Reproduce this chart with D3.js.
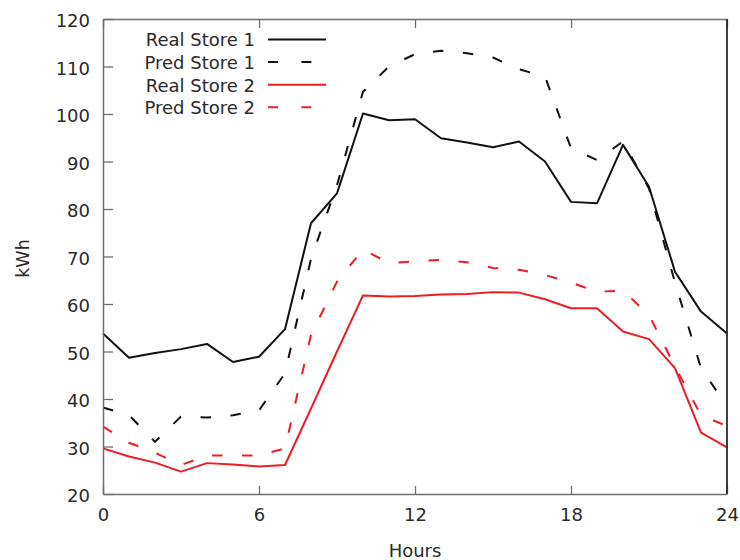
<!DOCTYPE html>
<html>
<head>
<meta charset="utf-8">
<script src="https://cdn.jsdelivr.net/npm/d3@7"></script>
<style>
  html, body { margin: 0; padding: 0; background: #fff; }
  svg { display: block; font-family: "DejaVu Sans", sans-serif; }
</style>
</head>
<body>
<svg id="chart" width="740" height="560"></svg>
<script>
// Hourly energy consumption, real vs predicted, for two stores
const hours = [0, 1, 2, 3, 4, 5, 6, 7, 8, 9, 10, 11, 12, 13, 14, 15, 16, 17, 18, 19, 20, 21, 22, 23, 24];

const realStore1 = [53.8, 48.7, 49.7, 50.5, 51.6, 47.8, 48.9, 54.7, 77.0, 83.3, 100.1, 98.7, 98.9, 94.9, 94.0, 93.0, 94.2, 90.0, 81.5, 81.2, 93.5, 84.7, 66.8, 58.4, 53.8];
const predStore1 = [38.2, 36.6, 31.0, 36.3, 36.1, 36.6, 37.6, 45.4, 69.5, 85.0, 104.7, 110.0, 112.6, 113.3, 112.8, 111.9, 109.4, 107.9, 92.8, 90.3, 94.2, 84.3, 64.5, 46.5, 38.5];
const realStore2 = [29.6, 27.9, 26.6, 24.7, 26.5, 26.2, 25.8, 26.1, 38.0, 50.0, 61.8, 61.6, 61.7, 62.0, 62.1, 62.5, 62.4, 61.0, 59.1, 59.1, 54.2, 52.6, 46.5, 32.9, 29.8];
const predStore2 = [34.2, 30.8, 28.7, 26.1, 28.1, 28.1, 28.1, 29.6, 53.5, 64.7, 71.5, 68.6, 69.0, 69.3, 68.8, 67.6, 67.2, 66.1, 64.5, 62.6, 62.8, 57.7, 46.8, 36.6, 34.3];

const xTicks = [0, 6, 12, 18, 24];
const yTicks = [20, 30, 40, 50, 60, 70, 80, 90, 100, 110, 120];

const seriesNames = ["Real Store 1", "Pred Store 1", "Real Store 2", "Pred Store 2"];
const seriesValues = [realStore1, predStore1, realStore2, predStore2];
const seriesColors = ["#111111", "#111111", "#ee1c25", "#ee1c25"];
const seriesDashed = [false, true, false, true];

const svg = d3.select("#chart");
const margin = { left: 103, right: 13, top: 19, bottom: 66 };
const W = 740, H = 560;

const x = d3.scaleLinear().domain([0, 24]).range([margin.left, W - margin.right]);
const y = d3.scaleLinear().domain([20, 120]).range([H - margin.bottom, margin.top]);

const axisColor = "#6e6e6e";
const textColor = "#2a2a2a";

// Lines
const line = d3.line().x((d, i) => x(hours[i])).y(d => y(d));
seriesValues.forEach((vals, k) => {
  svg.append("path")
    .datum(vals)
    .attr("fill", "none")
    .attr("stroke", seriesColors[k])
    .attr("stroke-width", 2)
    .attr("stroke-linejoin", "round")
    .attr("stroke-dasharray", seriesDashed[k] ? "10.5,19.5" : null)
    .attr("d", line);
});

// Axes: inward ticks on left, bottom and top
const yAxis = svg.append("g")
  .attr("transform", `translate(${x(0)},0)`)
  .call(d3.axisLeft(y).tickValues(yTicks).tickSizeInner(-10).tickSizeOuter(0).tickPadding(13));
const xAxis = svg.append("g")
  .attr("transform", `translate(0,${y(20)})`)
  .call(d3.axisBottom(x).tickValues(xTicks).tickSizeInner(-8).tickSizeOuter(0).tickPadding(14));
const xAxisTop = svg.append("g")
  .attr("transform", `translate(0,${y(120)})`)
  .call(d3.axisTop(x).tickValues(xTicks).tickSizeInner(-9).tickSizeOuter(0).tickFormat(""));

[yAxis, xAxis, xAxisTop].forEach(g => {
  g.select(".domain").attr("stroke", axisColor).attr("stroke-width", 1.5);
  g.selectAll(".tick line").attr("stroke", axisColor).attr("stroke-width", 1.3);
  g.selectAll(".tick text")
    .attr("fill", textColor)
    .style("font-family", "'DejaVu Sans', sans-serif")
    .style("font-size", "18px");
});
yAxis.selectAll(".tick text").attr("dy", "0.42em");

// Right border
svg.append("line")
  .attr("x1", x(24)).attr("x2", x(24))
  .attr("y1", y(120)).attr("y2", y(20))
  .attr("stroke", "#2a2a2a").attr("stroke-width", 1.8);

// Axis titles
svg.append("text")
  .attr("transform", `translate(29,${(y(20) + y(120)) / 2 + 2}) rotate(-90)`)
  .attr("text-anchor", "middle")
  .attr("fill", textColor)
  .style("font-size", "17.5px")
  .text("kWh");
svg.append("text")
  .attr("x", (x(0) + x(24)) / 2)
  .attr("y", 557)
  .attr("text-anchor", "middle")
  .attr("fill", textColor)
  .style("font-size", "18px")
  .text("Hours");

// Legend
const legend = svg.append("g");
const legendRowY = [39.5, 62, 84.7, 107.3];
seriesNames.forEach((name, k) => {
  const yy = legendRowY[k];
  legend.append("text")
    .attr("x", 255)
    .attr("y", yy + 6.8)
    .attr("text-anchor", "end")
    .attr("fill", textColor)
    .style("font-size", "18px")
    .text(name);
  legend.append("line")
    .attr("x1", 268).attr("x2", 326)
    .attr("y1", yy).attr("y2", yy)
    .attr("stroke", seriesColors[k])
    .attr("stroke-width", 2)
    .attr("stroke-dasharray", seriesDashed[k] ? "10,23.4" : null);
});
</script>
</body>
</html>
